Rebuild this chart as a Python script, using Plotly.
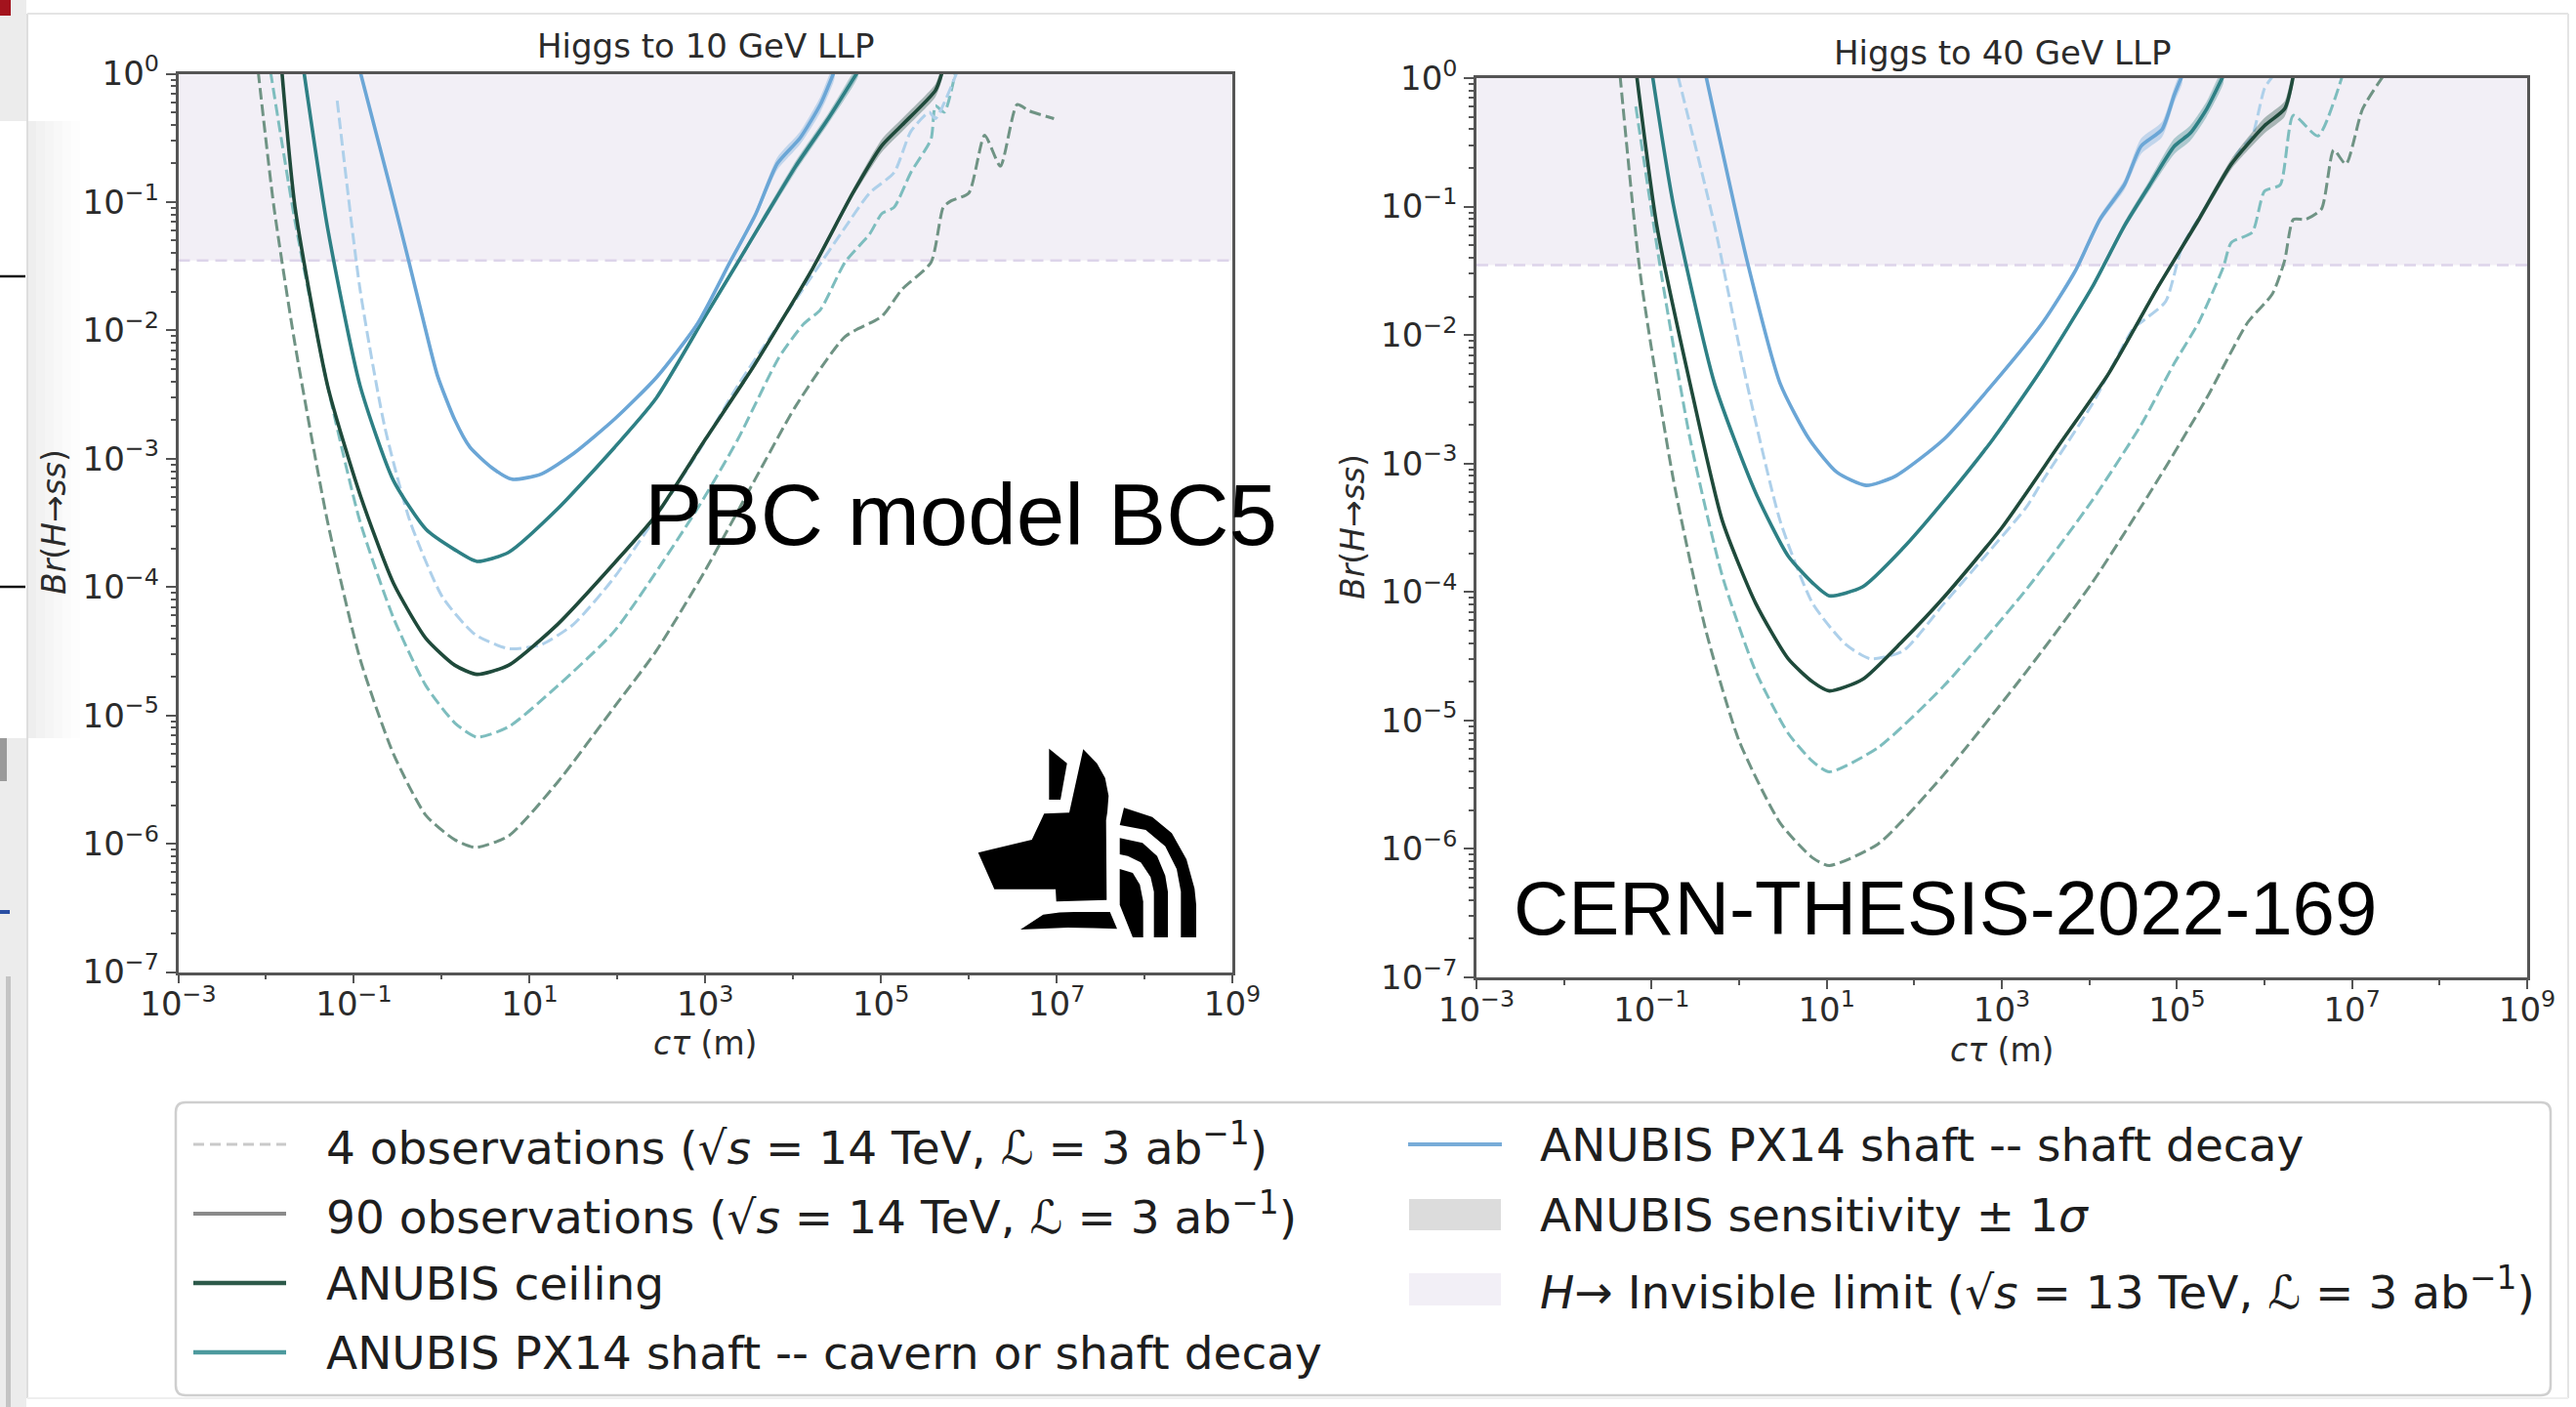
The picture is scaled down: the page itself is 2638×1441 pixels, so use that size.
import plotly.graph_objects as go

W, H = 2638, 1441

# ---------------------------------------------------------------------------
# Limit curves: log10(c*tau / m) and log10(Br(H->ss)), plus 1-sigma half widths
# (in decades) for the 90-observation ANUBIS curves.
# ---------------------------------------------------------------------------

# Higgs -> 10 GeV LLP
L_SHAFT_X = [-0.93, -0.60, -0.39, -0.20, -0.05, 0.15, 0.32, 0.57, 0.80, 1.13, 1.50, 1.97, 2.44, 2.91, 3.28, 3.57, 3.82, 4.08, 4.31, 4.47]
L_SHAFT_Y = [0.02, -0.85, -1.42, -1.95, -2.35, -2.70, -2.91, -3.07, -3.16, -3.12, -2.96, -2.69, -2.37, -1.95, -1.47, -1.10, -0.70, -0.50, -0.24, 0.02]
L_SHAFT_S = [0.01, 0.01, 0.01, 0.01, 0.01, 0.01, 0.01, 0.01, 0.01, 0.01, 0.01, 0.01, 0.015, 0.02, 0.02, 0.03, 0.05, 0.05, 0.06, 0.06]

L_CAV_X = [-1.57, -1.30, -0.93, -0.55, -0.18, 0.15, 0.40, 0.76, 1.32, 1.97, 2.44, 3.00, 3.37, 3.65, 4.03, 4.40, 4.74]
L_CAV_Y = [0.02, -1.20, -2.43, -3.17, -3.55, -3.71, -3.80, -3.73, -3.39, -2.91, -2.53, -1.89, -1.47, -1.15, -0.72, -0.35, 0.02]
L_CAV_S = [0.01, 0.01, 0.01, 0.01, 0.01, 0.01, 0.01, 0.01, 0.01, 0.01, 0.015, 0.02, 0.02, 0.03, 0.04, 0.04, 0.04]

L_CEIL_X = [-1.82, -1.67, -1.30, -0.93, -0.55, -0.18, 0.15, 0.40, 0.76, 1.32, 1.97, 2.44, 3.00, 3.56, 4.22, 4.68, 5.01, 5.24, 5.62, 5.70]
L_CEIL_Y = [0.02, -1.04, -2.43, -3.28, -3.97, -4.40, -4.61, -4.68, -4.61, -4.29, -3.81, -3.44, -2.85, -2.27, -1.52, -0.93, -0.56, -0.40, -0.13, 0.02]
L_CEIL_S = [0.01, 0.01, 0.01, 0.01, 0.01, 0.01, 0.01, 0.01, 0.01, 0.01, 0.01, 0.01, 0.015, 0.02, 0.02, 0.03, 0.05, 0.05, 0.05, 0.05]

L_SHAFT4_X = [-1.19, -0.93, -0.65, -0.36, 0.01, 0.38, 0.76, 1.13, 1.50, 1.97, 2.91, 3.37, 3.84, 4.22, 4.59, 4.87, 5.15, 5.34, 5.55, 5.62, 5.87]
L_SHAFT4_Y = [-0.21, -1.68, -2.75, -3.49, -4.08, -4.37, -4.48, -4.45, -4.29, -3.92, -2.96, -2.43, -1.95, -1.57, -1.20, -0.93, -0.77, -0.45, -0.30, -0.35, 0.02]

L_CAV4_X = [-1.95, -1.67, -1.30, -0.93, -0.55, -0.18, 0.15, 0.40, 0.76, 1.32, 1.97, 2.91, 3.37, 3.84, 4.12, 4.31, 4.59, 4.87, 5.01, 5.15, 5.34, 5.57, 5.62, 5.72, 5.85]
L_CAV4_Y = [0.02, -1.15, -2.43, -3.49, -4.24, -4.77, -5.06, -5.17, -5.09, -4.77, -4.34, -3.39, -2.85, -2.21, -1.95, -1.84, -1.47, -1.25, -1.09, -1.04, -0.77, -0.51, -0.25, -0.30, 0.02]

L_CEIL4_X = [-2.09, -1.91, -1.67, -1.30, -0.93, -0.55, -0.18, 0.15, 0.38, 0.76, 1.32, 1.97, 2.44, 3.00, 3.56, 4.03, 4.59, 5.01, 5.24, 5.57, 5.71, 5.80, 6.00, 6.18, 6.36, 6.55, 6.69, 6.97]
L_CEIL4_Y = [0.02, -1.04, -2.11, -3.49, -4.56, -5.30, -5.78, -5.97, -6.03, -5.94, -5.52, -4.93, -4.50, -3.87, -3.17, -2.59, -2.05, -1.89, -1.68, -1.47, -1.04, -0.99, -0.93, -0.48, -0.72, -0.24, -0.29, -0.35]

# Higgs -> 40 GeV LLP
R_SHAFT_X = [-0.38, 0.09, 0.47, 0.80, 1.12, 1.45, 1.78, 2.34, 2.90, 3.47, 3.84, 4.12, 4.40, 4.59, 4.83, 4.97, 5.06]
R_SHAFT_Y = [0.02, -1.42, -2.38, -2.81, -3.07, -3.17, -3.10, -2.81, -2.38, -1.90, -1.50, -1.10, -0.83, -0.53, -0.40, -0.13, 0.02]
R_SHAFT_S = [0.01, 0.01, 0.01, 0.01, 0.01, 0.01, 0.01, 0.01, 0.015, 0.02, 0.03, 0.03, 0.04, 0.06, 0.06, 0.06, 0.06]

R_CAV_X = [-0.99, -0.75, -0.28, 0.19, 0.56, 0.84, 1.03, 1.41, 1.87, 2.34, 2.90, 3.47, 4.03, 4.40, 4.69, 4.97, 5.15, 5.34, 5.53]
R_CAV_Y = [0.02, -0.99, -2.38, -3.23, -3.72, -3.93, -4.03, -3.96, -3.66, -3.29, -2.81, -2.25, -1.63, -1.15, -0.83, -0.53, -0.43, -0.24, 0.02]
R_CAV_S = [0.01, 0.01, 0.01, 0.01, 0.01, 0.01, 0.01, 0.01, 0.01, 0.01, 0.015, 0.02, 0.02, 0.03, 0.04, 0.06, 0.06, 0.06, 0.06]

R_CEIL_X = [-1.17, -0.94, -0.56, -0.19, 0.19, 0.56, 0.84, 1.03, 1.41, 1.87, 2.34, 3.00, 3.65, 4.22, 4.78, 5.25, 5.62, 6.00, 6.23, 6.33]
R_CEIL_Y = [0.02, -1.15, -2.38, -3.45, -4.09, -4.52, -4.70, -4.77, -4.68, -4.38, -4.04, -3.50, -2.86, -2.30, -1.63, -1.10, -0.67, -0.37, -0.24, 0.02]
R_CEIL_S = [0.01, 0.01, 0.01, 0.01, 0.01, 0.01, 0.01, 0.01, 0.01, 0.01, 0.01, 0.01, 0.015, 0.02, 0.02, 0.03, 0.04, 0.06, 0.06, 0.06]

R_SHAFT4_X = [-0.70, -0.28, 0.09, 0.47, 0.84, 1.22, 1.50, 1.87, 2.34, 2.81, 3.28, 3.47, 4.03, 4.50, 4.59, 4.87, 5.06, 5.34, 5.72, 5.86, 6.00, 6.10]
R_SHAFT4_Y = [0.02, -1.15, -2.38, -3.45, -4.09, -4.41, -4.52, -4.46, -4.09, -3.72, -3.34, -3.13, -2.54, -1.95, -1.90, -1.74, -1.31, -0.99, -0.56, -0.45, -0.08, 0.02]

R_CAV4_X = [-1.18, -0.89, -0.56, -0.19, 0.19, 0.56, 0.84, 1.03, 1.59, 2.34, 3.28, 4.03, 4.59, 4.97, 5.25, 5.53, 5.62, 5.86, 6.00, 6.18, 6.33, 6.61, 6.89]
R_CAV4_Y = [-0.22, -1.52, -2.81, -3.88, -4.62, -5.10, -5.32, -5.40, -5.21, -4.73, -3.98, -3.29, -2.70, -2.22, -1.90, -1.47, -1.28, -1.20, -0.88, -0.83, -0.29, -0.45, 0.02]

R_CEIL4_X = [-1.36, -1.13, -0.75, -0.38, 0.00, 0.47, 0.84, 1.03, 1.59, 2.34, 3.28, 4.03, 4.78, 5.34, 5.81, 6.09, 6.23, 6.33, 6.47, 6.65, 6.79, 6.93, 7.12, 7.36]
R_CEIL4_Y = [0.02, -1.52, -3.13, -4.30, -5.16, -5.80, -6.07, -6.13, -5.96, -5.42, -4.62, -3.93, -3.13, -2.49, -1.90, -1.68, -1.42, -1.10, -1.10, -1.02, -0.56, -0.67, -0.24, 0.02]

# H -> invisible upper limit (sqrt(s) = 13 TeV, 3 ab^-1)
INVISIBLE_LIMIT = 0.035

PANEL_TITLES = ["Higgs to 10 GeV LLP", "Higgs to 40 GeV LLP"]
X_TICK_EXP = [-3, -1, 1, 3, 5, 7, 9]
Y_TICK_EXP = [-7, -6, -5, -4, -3, -2, -1, 0]

LEGEND_LEFT = [
    "4 observations (√<i>s</i> = 14 TeV, <i>ℒ</i> = 3 ab<sup>−1</sup>)",
    "90 observations (√<i>s</i> = 14 TeV, <i>ℒ</i> = 3 ab<sup>−1</sup>)",
    "ANUBIS ceiling",
    "ANUBIS PX14 shaft -- cavern or shaft decay",
]
LEGEND_RIGHT = [
    "ANUBIS PX14 shaft -- shaft decay",
    "ANUBIS sensitivity ± 1<i>σ</i>",
    "<i>H</i>→ Invisible limit (√<i>s</i> = 13 TeV, <i>ℒ</i> = 3 ab<sup>−1</sup>)",
]

# ---------------------------------------------------------------------------
# Styling
# ---------------------------------------------------------------------------
C_CEIL = "#1f4a3b"
C_CAV = "#2e8085"
C_SHAFT = "#6ba6d6"
C_CEIL4 = "#6f9384"
C_CAV4 = "#7dbdbe"
C_SHAFT4 = "#aed0ea"
C_INV = "#f2eff6"
C_INV_EDGE = "#ddd4ea"
FONT = "DejaVu Sans"
TXT = "#2b2b2b"
SPINE = "#555555"
DASH = "12px,5px"
SMOOTH = 0.6


def P(px, py):
    """Figure pixel -> paper coordinates (the figure has no margins)."""
    return px / W, 1 - py / H


def poly_path(points):
    parts = []
    for i, (px, py) in enumerate(points):
        x, y = P(px, py)
        parts.append(("M" if i == 0 else "L") + f"{x:.5f},{y:.5f}")
    return " ".join(parts) + " Z"


def rounded_rect(x0, y0, x1, y1, r):
    def q(px, py):
        x, y = P(px, py)
        return f"{x:.5f},{y:.5f}"
    return (f"M{q(x0 + r, y0)} L{q(x1 - r, y0)} Q{q(x1, y0)} {q(x1, y0 + r)} "
            f"L{q(x1, y1 - r)} Q{q(x1, y1)} {q(x1 - r, y1)} L{q(x0 + r, y1)} "
            f"Q{q(x0, y1)} {q(x0, y1 - r)} L{q(x0, y0 + r)} Q{q(x0, y0)} {q(x0 + r, y0)} Z")


def rgba(hexcol, a):
    h = hexcol.lstrip("#")
    return f"rgba({int(h[0:2], 16)},{int(h[2:4], 16)},{int(h[4:6], 16)},{a})"


fig = go.Figure()


def add_curve(lx, ly, color, xa, ya, dashed=False, sig=None):
    xs = [10 ** v for v in lx]
    ys = [10 ** v for v in ly]
    if sig is not None:
        up = [10 ** (v + s) for v, s in zip(ly, sig)]
        lo = [10 ** (v - s) for v, s in zip(ly, sig)]
        fig.add_trace(go.Scatter(
            x=xs + xs[::-1], y=up + lo[::-1], fill="toself", mode="lines",
            line=dict(width=0, shape="spline", smoothing=SMOOTH), fillcolor=rgba(color, 0.35),
            xaxis=xa, yaxis=ya, showlegend=False, hoverinfo="skip"))
    ln = dict(color=color, width=3.0 if dashed else 3.6, dash=DASH if dashed else "solid",
              shape="spline", smoothing=SMOOTH)
    fig.add_trace(go.Scatter(
        x=xs, y=ys, mode="lines", line=ln,
        xaxis=xa, yaxis=ya, showlegend=False, hoverinfo="skip"))


panels = [
    ("x", "y", dict(
        shaft=(L_SHAFT_X, L_SHAFT_Y, L_SHAFT_S), cav=(L_CAV_X, L_CAV_Y, L_CAV_S),
        ceil=(L_CEIL_X, L_CEIL_Y, L_CEIL_S), shaft4=(L_SHAFT4_X, L_SHAFT4_Y),
        cav4=(L_CAV4_X, L_CAV4_Y), ceil4=(L_CEIL4_X, L_CEIL4_Y))),
    ("x2", "y2", dict(
        shaft=(R_SHAFT_X, R_SHAFT_Y, R_SHAFT_S), cav=(R_CAV_X, R_CAV_Y, R_CAV_S),
        ceil=(R_CEIL_X, R_CEIL_Y, R_CEIL_S), shaft4=(R_SHAFT4_X, R_SHAFT4_Y),
        cav4=(R_CAV4_X, R_CAV4_Y), ceil4=(R_CEIL4_X, R_CEIL4_Y))),
]

for xa, ya, c in panels:
    # excluded region above the H -> invisible limit
    fig.add_trace(go.Scatter(
        x=[1e-3, 1e9, 1e9, 1e-3], y=[INVISIBLE_LIMIT, INVISIBLE_LIMIT, 1, 1],
        fill="toself", fillcolor=C_INV, mode="lines", line=dict(width=0),
        xaxis=xa, yaxis=ya, showlegend=False, hoverinfo="skip"))
    fig.add_trace(go.Scatter(
        x=[1e-3, 1e9], y=[INVISIBLE_LIMIT, INVISIBLE_LIMIT], mode="lines",
        line=dict(color=C_INV_EDGE, width=2.5, dash="12px,7px"),
        xaxis=xa, yaxis=ya, showlegend=False, hoverinfo="skip"))
    add_curve(*c["ceil4"], C_CEIL4, xa, ya, dashed=True)
    add_curve(*c["cav4"], C_CAV4, xa, ya, dashed=True)
    add_curve(*c["shaft4"], C_SHAFT4, xa, ya, dashed=True)
    add_curve(c["ceil"][0], c["ceil"][1], C_CEIL, xa, ya, sig=c["ceil"][2])
    add_curve(c["cav"][0], c["cav"][1], C_CAV, xa, ya, sig=c["cav"][2])
    add_curve(c["shaft"][0], c["shaft"][1], C_SHAFT, xa, ya, sig=c["shaft"][2])


def sup(e):
    return "10<sup>" + (str(e) if e >= 0 else "−" + str(-e)) + "</sup>"


x_minor = [10 ** e for e in range(-2, 9, 2)]
y_minor = [k * 10 ** e for e in range(-7, 0) for k in range(2, 10)]

# panel boxes in figure pixels: (left, right, top, bottom)
BOX = [(182.5, 1262, 75.5, 995.5), (1512, 2588, 80, 1001)]


def xaxis_cfg(i, anchor):
    l, r, t, b = BOX[i]
    return dict(
        domain=[l / W, r / W], anchor=anchor, type="log", range=[-3, 9], automargin=False,
        tickmode="array", tickvals=[10 ** e for e in X_TICK_EXP],
        ticktext=[sup(e) for e in X_TICK_EXP], ticklabelstandoff=-8,
        ticks="outside", ticklen=9, tickwidth=2, tickcolor=SPINE,
        minor=dict(ticks="outside", ticklen=5, tickwidth=1.5, tickcolor=SPINE, tickvals=x_minor),
        showline=True, mirror=True, linecolor=SPINE, linewidth=2.5,
        showgrid=False, zeroline=False,
        tickfont=dict(family=FONT, size=34, color=TXT))


def yaxis_cfg(i, anchor):
    l, r, t, b = BOX[i]
    return dict(
        domain=[1 - b / H, 1 - t / H], anchor=anchor, type="log", range=[-7, 0], automargin=False,
        tickmode="array", tickvals=[10 ** e for e in Y_TICK_EXP],
        ticktext=[sup(e) for e in Y_TICK_EXP],
        ticks="outside", ticklen=10, tickwidth=2, tickcolor=SPINE,
        minor=dict(ticks="outside", ticklen=5, tickwidth=1.5, tickcolor=SPINE, tickvals=y_minor),
        showline=True, mirror=True, linecolor=SPINE, linewidth=2.5,
        showgrid=False, zeroline=False,
        tickfont=dict(family=FONT, size=34, color=TXT))


annotations = []


def text_at(px, py, txt, size, xanchor="center", family=FONT, color=TXT, angle=0, weight=None):
    x, y = P(px, py)
    f = dict(family=family, size=size, color=color)
    if weight:
        f["weight"] = weight
    annotations.append(dict(
        x=x, y=y, xref="paper", yref="paper", text=txt, showarrow=False,
        xanchor=xanchor, yanchor="middle", font=f, textangle=angle))


# panel titles and axis titles
text_at(722, 47, PANEL_TITLES[0], 34)
text_at(2050, 54, PANEL_TITLES[1], 34)
text_at(722, 1068, "<i>cτ</i> (m)", 33)
text_at(2050, 1075, "<i>cτ</i> (m)", 33)
text_at(55, 535, "<i>Br</i>(<i>H</i>→<i>ss</i>)", 33, angle=-90)
text_at(1385, 540, "<i>Br</i>(<i>H</i>→<i>ss</i>)", 33, angle=-90)

# overlay notes
text_at(658, 527, "PBC model BC5", 89, xanchor="left", family="Liberation Sans", color="#000000")
text_at(1548, 930, "CERN-THESIS-2022-169", 78, xanchor="left", family="Liberation Sans", color="#000000")

shapes = []


def rect(x0, y0, x1, y1, color, layer="below"):
    a, b = P(x0, y0)
    c, d = P(x1, y1)
    shapes.append(dict(type="rect", xref="paper", yref="paper", x0=a, x1=c, y0=d, y1=b,
                       fillcolor=color, line=dict(width=0), layer=layer))


def line(x0, y0, x1, y1, color, width, dash=None, layer="below"):
    a, b = P(x0, y0)
    c, d = P(x1, y1)
    ln = dict(color=color, width=width)
    if dash:
        ln["dash"] = dash
    shapes.append(dict(type="line", xref="paper", yref="paper", x0=a, y0=b, x1=c, y1=d,
                       line=ln, layer=layer))


# window frame and slide edge at the left
rect(0, 0, 27, 1441, "#ececec")
rect(0, 0, 11, 16, "#a3131d")
rect(0, 124, 27, 756, "#ffffff")
line(0, 283, 26, 283, "#111111", 2.5)
line(0, 601, 26, 601, "#111111", 2.5)
rect(0, 756, 7, 800, "#9a9a9a")
line(0, 934, 10, 934, "#2a4fa3", 4)
rect(6, 1000, 11, 1441, "#c4c4c4")
for k, col in enumerate(["#eeeeee", "#f2f2f2", "#f5f5f5", "#f8f8f8", "#fbfbfb", "#fdfdfd"]):
    rect(28 + 9 * k, 124, 37 + 9 * k, 756, col)
line(28, 14, 28, 1432, "#dedede", 2)
line(28, 14, 2630, 14, "#e4e4e4", 2)
line(2630, 14, 2630, 1432, "#e4e4e4", 2)
line(28, 1432, 2630, 1432, "#eeeeee", 2)

# legend box
shapes.append(dict(type="path", path=rounded_rect(180, 1129, 2612, 1429, 10),
                   xref="paper", yref="paper", fillcolor="#ffffff",
                   line=dict(color="#cfcfcf", width=2.5), layer="below"))

ROWS = [1172, 1243, 1314, 1385]
line(198, ROWS[0], 293, ROWS[0], "#c9c9c9", 3, dash="11px,6px", layer="above")
line(198, ROWS[1], 293, ROWS[1], "#8a8a8a", 4, layer="above")
line(198, ROWS[2], 293, ROWS[2], "#2d5a4a", 4.5, layer="above")
line(198, ROWS[3], 293, ROWS[3], "#4d9a9e", 4.5, layer="above")
line(1442, ROWS[0], 1538, ROWS[0], "#78acd8", 4, layer="above")
rect(1443, 1228, 1537, 1260, "#dcdcdc", layer="above")
rect(1443, 1304, 1537, 1337, C_INV, layer="above")

for row, txt in zip(ROWS, LEGEND_LEFT):
    text_at(332, row, txt, 47, xanchor="left", color="#1e1e1e")
for row, txt in zip([1172, 1244, 1320], LEGEND_RIGHT):
    text_at(1575, row, txt, 47, xanchor="left", color="#1e1e1e")

# ANUBIS emblem: jackal head with three arcs
LOGO_EAR = [(1074.3, 766.7), (1092.7, 781.7), (1086, 819), (1074.3, 819)]
LOGO_HEAD = [(1001.7, 873.3), (1056.7, 860), (1069.3, 833.3), (1095, 832.3), (1109.3, 767.3),
             (1123.3, 781.7), (1131.7, 796.7), (1135.3, 815), (1134, 831.7), (1132.7, 840),
             (1133.3, 921.7), (1081.7, 923.3), (1081, 910.7), (1018.3, 910.7)]
LOGO_COLLAR = [(1045, 952), (1068.3, 936.7), (1085, 934.5), (1100, 934), (1120, 934),
               (1136.7, 934), (1144, 951.3), (1120, 950.5), (1093.3, 950), (1070, 951)]
LOGO_ARC1 = [(1151, 827.3), (1180, 836.7), (1200, 853.3), (1215, 880), (1223.3, 910),
             (1225, 926.7), (1225, 960), (1209.3, 960), (1209.3, 913.3), (1205, 890),
             (1193.3, 866.7), (1173.3, 850), (1146.7, 845)]
LOGO_ARC2 = [(1146.7, 858.3), (1170, 863.3), (1185, 876.7), (1193.3, 896.7), (1196, 913.3),
             (1196, 960), (1181.7, 960), (1181.7, 913.3), (1178.3, 898.3), (1168.3, 883.3),
             (1155, 876.7), (1146.7, 875)]
LOGO_ARC3 = [(1146.7, 890), (1160, 894), (1167.3, 906), (1170.7, 923.3), (1170.7, 960),
             (1160, 960), (1146.7, 926.7)]
for pts in [LOGO_EAR, LOGO_HEAD, LOGO_COLLAR, LOGO_ARC1, LOGO_ARC2, LOGO_ARC3]:
    shapes.append(dict(type="path", path=poly_path(pts), xref="paper", yref="paper",
                       fillcolor="#000000", line=dict(width=0), layer="above"))

fig.update_layout(
    template="none",
    width=W, height=H, autosize=False,
    margin=dict(l=0, r=0, t=0, b=0, pad=0, autoexpand=False),
    paper_bgcolor="#ffffff", plot_bgcolor="rgba(0,0,0,0)",
    showlegend=False, hovermode=False,
    xaxis=xaxis_cfg(0, "y"), yaxis=yaxis_cfg(0, "x"),
    xaxis2=xaxis_cfg(1, "y2"), yaxis2=yaxis_cfg(1, "x2"),
    annotations=annotations, shapes=shapes,
)

fig.write_html("out.html", config={"displayModeBar": False},
               post_script="document.body.style.margin='0';document.body.style.padding='0';")
